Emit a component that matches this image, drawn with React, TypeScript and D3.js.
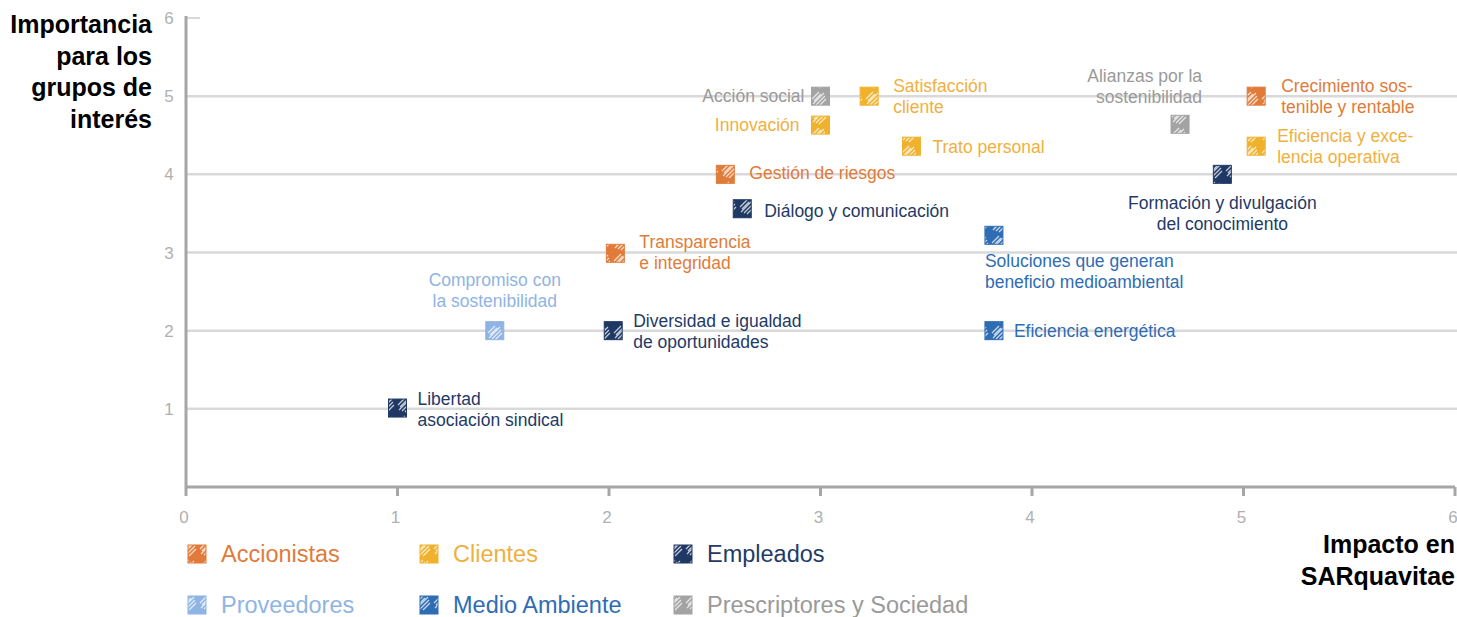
import React from 'react';
import * as d3 from 'd3';

// groups (legend order)
const groups = ['Accionistas', 'Clientes', 'Empleados', 'Proveedores', 'Medio Ambiente', 'Prescriptores y Sociedad'];
const groupColors = ['#e07b39', '#f0b12c', '#1f3864', '#8fb4e3', '#2e6db4', '#a3a3a3'];
const labelColors = ['#e07b39', '#f0b040', '#233a66', '#8fb4e3', '#2e6db4', '#9a9a9a'];

// topics
const topics = [
  ['Acción social'],
  ['Satisfacción', 'cliente'],
  ['Innovación'],
  ['Trato personal'],
  ['Gestión de riesgos'],
  ['Diálogo y comunicación'],
  ['Transparencia', 'e integridad'],
  ['Compromiso con', 'la sostenibilidad'],
  ['Diversidad e igualdad', 'de oportunidades'],
  ['Libertad', 'asociación sindical'],
  ['Soluciones que generan', 'beneficio medioambiental'],
  ['Eficiencia energética'],
  ['Alianzas por la', 'sostenibilidad'],
  ['Crecimiento sos-', 'tenible y rentable'],
  ['Eficiencia y exce-', 'lencia operativa'],
  ['Formación y divulgación', 'del conocimiento'],
];
const topicGroup = [5, 1, 1, 1, 0, 2, 0, 3, 2, 2, 4, 4, 5, 0, 1, 2];
const impact = [3.0, 3.23, 3.0, 3.43, 2.55, 2.63, 2.03, 1.46, 2.02, 1.0, 3.82, 3.82, 4.7, 5.06, 5.06, 4.9];
const importance = [5.0, 5.0, 4.63, 4.36, 4.0, 3.56, 2.99, 2.0, 2.0, 1.01, 3.22, 2.0, 4.64, 5.0, 4.36, 4.0];

const xTicks = [0, 1, 2, 3, 4, 5, 6];
const yTicks = [1, 2, 3, 4, 5, 6];

// label placement: [anchor, dx, dy of first line]
const placement: [string, number, number][] = [
  ['end', -16, 6],
  ['start', 24, -4],
  ['end', -21, 6],
  ['start', 21, 7],
  ['start', 24, 5],
  ['start', 22, 8],
  ['start', 24, -5],
  ['middle', 0, -45],
  ['start', 20, -4],
  ['start', 20, -3],
  ['start', -9, 32],
  ['start', 20, 6],
  ['end', 22, -42],
  ['start', 25, -4],
  ['start', 21, -4],
  ['middle', 0, 35],
];

const W = 1457;
const H = 617;
const font = '"Liberation Sans", Arial, Helvetica, sans-serif';

const x = d3.scaleLinear().domain([0, 6]).range([186, 1455]);
const y = d3.scaleLinear().domain([0, 6]).range([487, 18]);

const Marker = ({ cx, cy, g }: { cx: number; cy: number; g: number }) => (
  <rect x={cx - 9} y={cy - 9} width={18} height={18} fill={`url(#hatch${g})`} stroke={groupColors[g]} strokeWidth={1} />
);

export default function App() {
  return (
    <svg width={W} height={H} style={{ position: 'absolute', left: 0, top: 0 }} fontFamily={font}>
      <defs>
        {groupColors.map((c, i) => (
          <pattern key={i} id={`hatch${i}`} patternUnits="userSpaceOnUse" width={18} height={18} x={0} y={0}>
            <rect width={18} height={18} fill={c} />
            <path d="M2,9 L9,2 M3,14 L14,3 M6,15 L15,6 M4,11 L11,4 M9,16 L16,9" stroke="#fff" strokeWidth={1.2} strokeOpacity={0.75} fill="none" />
          </pattern>
        ))}
      </defs>
      <rect width={W} height={H} fill="#fff" />

      {/* grid */}
      {yTicks.filter(t => t < 6).map(t => (
        <line key={t} x1={x(0)} x2={W} y1={y(t)} y2={y(t)} stroke="#d9d9d9" strokeWidth={2.5} />
      ))}
      <line x1={x(0)} x2={x(0) + 14} y1={y(6)} y2={y(6)} stroke="#d9d9d9" strokeWidth={2} />

      {/* axes */}
      <line x1={x(0)} x2={x(0)} y1={y(6) - 2} y2={y(0)} stroke="#a6a6a6" strokeWidth={3} />
      <line x1={x(0)} x2={x(6)} y1={y(0)} y2={y(0)} stroke="#a6a6a6" strokeWidth={3} />
      {xTicks.map(t => (
        <g key={t}>
          <line x1={x(t)} x2={x(t)} y1={y(0)} y2={y(0) + 9} stroke="#a6a6a6" strokeWidth={3} />
          <text x={x(t) - 2} y={y(0) + 36} fontSize={17} fill="#b0b0b0" textAnchor="middle">{t}</text>
        </g>
      ))}
      {yTicks.map(t => (
        <text key={t} x={169} y={y(t) + 6} fontSize={17} fill="#b0b0b0" textAnchor="middle">{t}</text>
      ))}

      {/* axis titles */}
      <text x={152} fontSize={25} fontWeight="bold" textAnchor="end" fill="#000">
        {['Importancia', 'para los', 'grupos de', 'interés'].map((l, i) => (
          <tspan key={i} x={152} y={33 + i * 31.5}>{l}</tspan>
        ))}
      </text>
      <text fontSize={25} fontWeight="bold" textAnchor="end" fill="#000">
        <tspan x={1455} y={553}>Impacto en</tspan>
        <tspan x={1455} y={585}>SARquavitae</tspan>
      </text>

      {/* points */}
      {topics.map((lines, i) => {
        const g = topicGroup[i];
        const cx = x(impact[i]);
        const cy = y(importance[i]);
        const [anchor, dx, dy] = placement[i];
        return (
          <g key={i}>
            <Marker cx={cx} cy={cy} g={g} />
            <text fontSize={17.5} fill={labelColors[g]} textAnchor={anchor as any}>
              {lines.map((l, j) => (
                <tspan key={j} x={cx + dx} y={cy + dy + j * 21}>{l}</tspan>
              ))}
            </text>
          </g>
        );
      })}

      {/* legend */}
      {groups.map((name, i) => {
        const col = i % 3;
        const row = Math.floor(i / 3);
        const lx = [197, 429, 683][col];
        const ly = 554 + row * 51;
        return (
          <g key={name}>
            <Marker cx={lx} cy={ly} g={i} />
            <text x={lx + 24} y={ly + 8} fontSize={23.5} fill={labelColors[i]}>{name}</text>
          </g>
        );
      })}
    </svg>
  );
}
